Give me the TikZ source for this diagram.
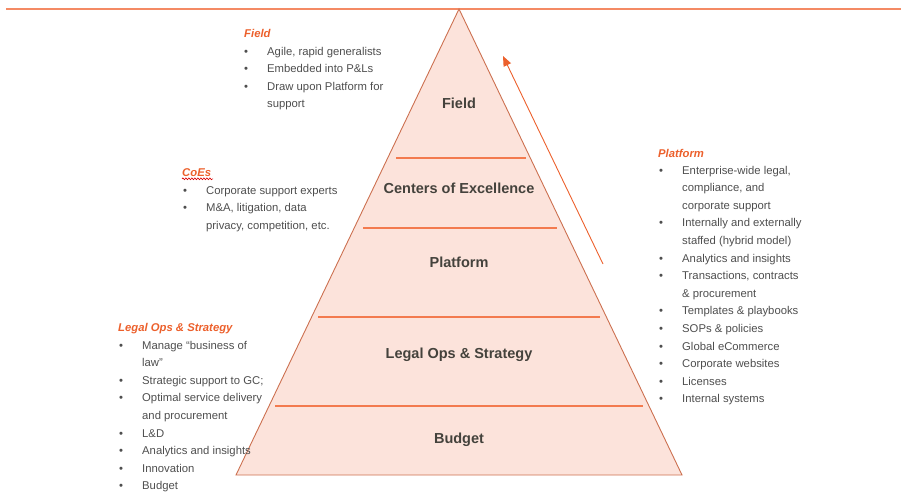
\documentclass[tikz,border=0pt]{standalone}
\usepackage{fontspec}
\setmainfont{Liberation Sans}
\usetikzlibrary{decorations.pathmorphing,arrows.meta}
\definecolor{rule}{RGB}{244,138,100}
\definecolor{pyrfill}{RGB}{252,227,219}
\definecolor{pyredge}{RGB}{204,112,80}
\definecolor{tierline}{RGB}{243,122,78}
\definecolor{accent}{RGB}{236,96,44}
\definecolor{bodygray}{RGB}{78,78,78}
\definecolor{labelgray}{RGB}{68,66,60}
\newcommand\itemlist[1]{\begin{tabular}[t]{@{}p{23pt}@{}l@{}}#1\end{tabular}}
\newcommand\bul{\textbullet}
\begin{document}
\begin{tikzpicture}[x=1pt,y=-1pt,
  heading/.style={anchor=base west,inner sep=0pt,text=accent,
    font=\fontsize{11.3}{13}\selectfont\bfseries\itshape},
  itemblock/.style={anchor=base west,inner sep=0pt,text=bodygray,
    font=\fontsize{11.3}{17.6}\selectfont},
  tierlabel/.style={anchor=base,inner sep=0pt,text=labelgray,
    font=\fontsize{14.5}{16}\selectfont\bfseries},
  tierrule/.style={draw=tierline,line width=1.8pt},
  ascent/.style={draw=accent,line width=0.9pt,-{Triangle[length=10pt,width=8pt]}}]
\useasboundingbox (0,0) rectangle (901,498);

% top rule
\coordinate (ruleL) at (6,8.5);
\coordinate (ruleR) at (901,8.5);
\draw[rule,line width=2pt] (ruleL) -- (ruleR);

% pyramid
\coordinate (apex) at (459,9);
\coordinate (baseL) at (236,475);
\coordinate (baseR) at (682,475);
\filldraw[fill=pyrfill,draw=pyredge,line width=0.9pt,line join=miter] (apex) -- (baseR) -- (baseL) -- cycle;

% tier separators
\coordinate (t1L) at (396,158); \coordinate (t1R) at (526,158);
\coordinate (t2L) at (363,228); \coordinate (t2R) at (557,228);
\coordinate (t3L) at (318,317); \coordinate (t3R) at (600,317);
\coordinate (t4L) at (275,406); \coordinate (t4R) at (643,406);
\draw[tierrule] (t1L) -- (t1R);
\draw[tierrule] (t2L) -- (t2R);
\draw[tierrule] (t3L) -- (t3R);
\draw[tierrule] (t4L) -- (t4R);

% tier labels
\node[tierlabel] (field) at (459,108) {Field};
\node[tierlabel] (coe) at (459,193) {Centers of Excellence};
\node[tierlabel] (platform) at (459,267) {Platform};
\node[tierlabel] (legalops) at (459,358) {Legal Ops \& Strategy};
\node[tierlabel] (budget) at (459,443) {Budget};

% upward arrow
\coordinate (arrowFoot) at (603,264);
\coordinate (arrowTip) at (503,56);
\draw[ascent] (arrowFoot) -- (arrowTip);

% Field notes
\node[heading] (fieldHead) at (244,37) {Field};
\node[itemblock] (fieldItems) at (244,55) {\itemlist{%
\bul & Agile, rapid generalists\\
\bul & Embedded into P\&Ls\\
\bul & Draw upon Platform for\\
 & support}};

% CoE notes
\node[heading] (coeHead) at (182,176) {CoEs};
\draw[red!85!black,line width=0.6pt,decorate,
  decoration={snake,amplitude=0.9pt,segment length=3pt}]
  (coeHead.south west) ++(0,2.5) coordinate (wavyL) -- ++(31,0) coordinate (wavyR);
\node[itemblock] (coeItems) at (183,194) {\itemlist{%
\bul & Corporate support experts\\
\bul & M\&A, litigation, data\\
 & privacy, competition, etc.}};

% Platform notes
\node[heading] (platformHead) at (658,157) {Platform};
\node[itemblock] (platformItems) at (659,174) {\itemlist{%
\bul & Enterprise-wide legal,\\
 & compliance, and\\
 & corporate support\\
\bul & Internally and externally\\
 & staffed (hybrid model)\\
\bul & Analytics and insights\\
\bul & Transactions, contracts\\
 & \& procurement\\
\bul & Templates \& playbooks\\
\bul & SOPs \& policies\\
\bul & Global eCommerce\\
\bul & Corporate websites\\
\bul & Licenses\\
\bul & Internal systems}};

% Legal Ops notes
\node[heading] (legalHead) at (118,331) {Legal Ops \& Strategy};
\node[itemblock] (legalItems) at (119,349) {\itemlist{%
\bul & Manage ``business of\\
 & law''\\
\bul & Strategic support to GC;\\
\bul & Optimal service delivery\\
 & and procurement\\
\bul & L\&D\\
\bul & Analytics and insights\\
\bul & Innovation\\
\bul & Budget}};
\end{tikzpicture}
\end{document}
